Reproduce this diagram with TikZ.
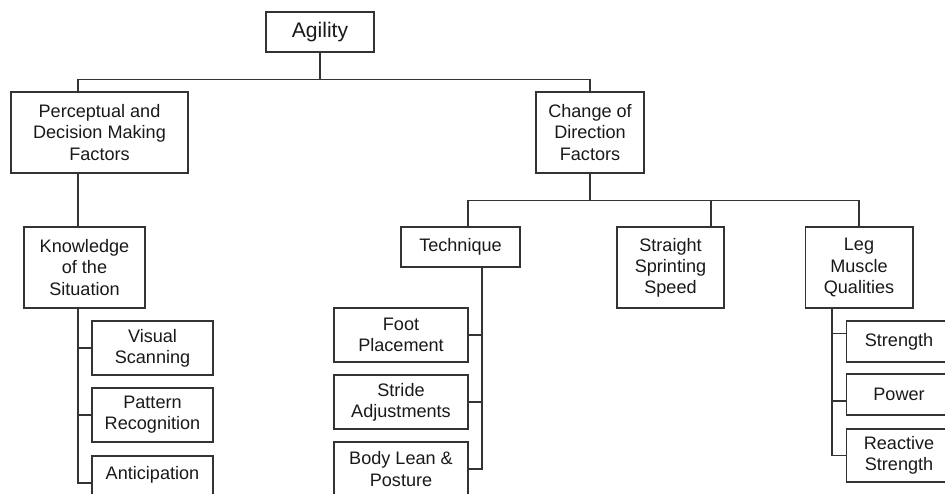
\documentclass[tikz,border=0pt]{standalone}
\usepackage{fontspec}
\setmainfont{Liberation Sans}
\usepackage{tikz}
\usetikzlibrary{positioning,calc}

\begin{document}
\begin{tikzpicture}[x=0.02cm, y=-0.02cm,
    box/.style={draw=black!80, line width=0.6pt, rectangle, inner sep=0pt, align=center,
        font=\fontsize{10.3}{12}\selectfont, text=black!90},
    link/.style={draw=black!80, line width=0.6pt}]
    \useasboundingbox (0, 0) rectangle (945, 493);
    \clip (0, 0) rectangle (945, 493);

    % Spines
    \coordinate (pspine) at (78, 0);
    \coordinate (tjoin) at (468, 0);
    \coordinate (sjoin) at (711, 0);
    \coordinate (tspine) at (482, 0);
    \coordinate (lspine) at (832, 0);

    % Top
    \node [box, font=\fontsize{12}{14}\selectfont, minimum width=2.16cm, minimum height=0.8cm] (agility) at (320, 32) {Agility};

    % Level 1
    \node [box, minimum width=3.54cm, minimum height=1.62cm] (pdm) at (99.5, 132.5) {Perceptual and\\Decision Making\\Factors};
    \node [box, minimum width=2.16cm, minimum height=1.62cm] (cod) at (590, 132.5) {Change of\\Direction\\Factors};

    % Level 2
    \node [box, minimum width=2.42cm, minimum height=1.62cm] (kos) at (84.5, 267.5) {Knowledge\\of the\\Situation};
    \node [box, minimum width=2.38cm, minimum height=0.8cm] (tech) at (460.5, 247) {Technique};
    \node [box, minimum width=2.14cm, minimum height=1.62cm] (ssp) at (670.5, 267.5) {Straight\\Sprinting\\Speed};
    \node [box, minimum width=2.16cm, minimum height=1.62cm] (leg) at (859, 267.5) {Leg\\Muscle\\Qualities};

    % Knowledge of the situation
    \node [box, minimum width=2.42cm, minimum height=1.08cm] (vis) at (152.5, 348) {Visual\\Scanning};
    \node [box, minimum width=2.42cm, minimum height=1.08cm] (pat) at (152.5, 415) {Pattern\\Recognition};
    \node [box, minimum width=2.42cm, minimum height=1.08cm] (ant) at (152.5, 483) {Anticipation\\\phantom{A}};

    % Technique
    \node [box, minimum width=2.68cm, minimum height=1.08cm] (foot) at (401, 335) {Foot\\Placement};
    \node [box, minimum width=2.68cm, minimum height=1.08cm] (stride) at (401, 402) {Stride\\Adjustments};
    \node [box, minimum width=2.68cm, minimum height=1.08cm] (lean) at (401, 469) {Body Lean \&\\Posture};

    % Leg muscle qualities
    \node [box, minimum width=2.12cm, minimum height=0.82cm] (str) at (899, 341.5) {Strength};
    \node [box, minimum width=2.12cm, minimum height=0.82cm] (pow) at (899, 394.5) {Power};
    \node [box, minimum width=2.12cm, minimum height=1.06cm] (rea) at (899, 455.5) {Reactive\\Strength};

    % Connectors
    \draw [link] (agility.south) -- ++(0, 27) -| (pdm.north -| pspine);
    \draw [link] (agility.south) -- ++(0, 27) -| (cod.north);
    \draw [link] (pdm.south -| pspine) -- (kos.north -| pspine);
    \draw [link] (cod.south) -- ++(0, 27) -| (tech.north -| tjoin);
    \draw [link] (cod.south) -- ++(0, 27) -| (ssp.north -| sjoin);
    \draw [link] (cod.south) -- ++(0, 27) -| (leg.north);

    \foreach \c in {vis, pat, ant}
        \draw [link] (kos.south -| pspine) |- (\c.west);
    \foreach \c in {foot, stride, lean}
        \draw [link] (tech.south -| tspine) |- (\c.east);
    \draw [link] (leg.south -| lspine) |- ([yshift=0.16cm]str.west);
    \draw [link] (leg.south -| lspine) |- ([yshift=-0.13cm]pow.west);
    \draw [link] (leg.south -| lspine) |- (rea.west);
\end{tikzpicture}
\end{document}
